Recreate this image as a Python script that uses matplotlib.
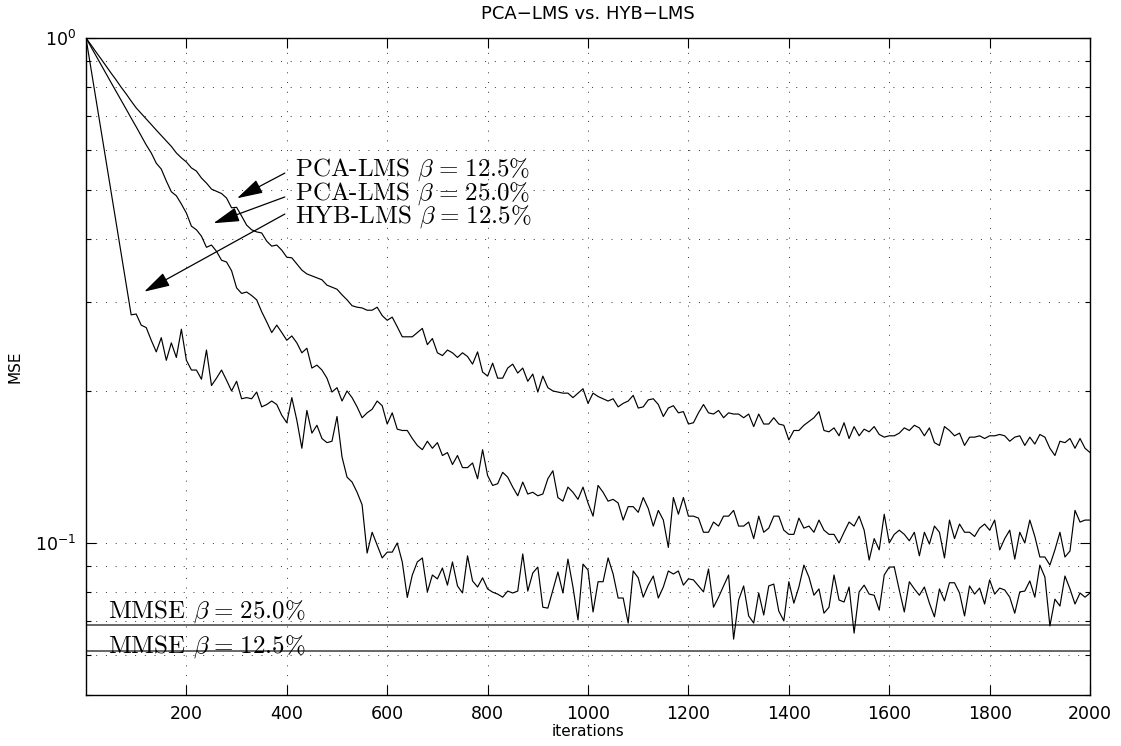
import numpy as np
import matplotlib
matplotlib.use("Agg")
import matplotlib.pyplot as plt

# iteration axis, one sample every 10 iterations
iterations = np.arange(0, 2001, 10)

# PCA-LMS beta = 12.5% (slowest curve)
mse_pca_125 = [
    1.000, 0.969, 0.938, 0.909, 0.880, 0.852, 0.826, 0.799, 0.775, 0.750,
    0.727, 0.709, 0.691, 0.674, 0.657, 0.641, 0.625, 0.610, 0.592, 0.579,
    0.568, 0.553, 0.545, 0.528, 0.516, 0.502, 0.497, 0.492, 0.482, 0.461,
    0.462, 0.444, 0.426, 0.417, 0.413, 0.411, 0.396, 0.387, 0.389, 0.380,
    0.368, 0.367, 0.357, 0.347, 0.341, 0.338, 0.335, 0.332, 0.324, 0.321,
    0.318, 0.310, 0.303, 0.295, 0.293, 0.292, 0.289, 0.289, 0.293, 0.282,
    0.276, 0.280, 0.268, 0.256, 0.256, 0.256, 0.261, 0.266, 0.247, 0.254,
    0.238, 0.235, 0.241, 0.238, 0.233, 0.238, 0.234, 0.226, 0.239, 0.218,
    0.214, 0.227, 0.212, 0.212, 0.222, 0.226, 0.217, 0.222, 0.209, 0.216,
    0.199, 0.214, 0.203, 0.200, 0.199, 0.198, 0.198, 0.194, 0.198, 0.202,
    0.189, 0.198, 0.195, 0.193, 0.191, 0.193, 0.186, 0.189, 0.191, 0.196,
    0.185, 0.186, 0.192, 0.193, 0.188, 0.178, 0.185, 0.187, 0.181, 0.182,
    0.172, 0.173, 0.181, 0.188, 0.181, 0.180, 0.183, 0.177, 0.181, 0.180,
    0.180, 0.177, 0.180, 0.170, 0.180, 0.172, 0.172, 0.177, 0.172, 0.171,
    0.160, 0.167, 0.167, 0.171, 0.174, 0.177, 0.182, 0.167, 0.166, 0.169,
    0.163, 0.173, 0.161, 0.170, 0.163, 0.168, 0.166, 0.170, 0.164, 0.162,
    0.163, 0.163, 0.165, 0.169, 0.167, 0.171, 0.169, 0.163, 0.169, 0.158,
    0.156, 0.170, 0.167, 0.163, 0.165, 0.156, 0.162, 0.162, 0.163, 0.161,
    0.163, 0.163, 0.164, 0.163, 0.159, 0.162, 0.163, 0.156, 0.162, 0.157,
    0.164, 0.162, 0.154, 0.149, 0.159, 0.158, 0.161, 0.154, 0.161, 0.154,
    0.151,
]

# PCA-LMS beta = 25.0%
mse_pca_250 = [
    1.000, 0.960, 0.922, 0.885, 0.850, 0.816, 0.784, 0.753, 0.723, 0.694,
    0.667, 0.640, 0.614, 0.592, 0.565, 0.550, 0.521, 0.496, 0.487, 0.469,
    0.450, 0.424, 0.417, 0.405, 0.385, 0.389, 0.378, 0.363, 0.360, 0.346,
    0.320, 0.312, 0.314, 0.309, 0.303, 0.287, 0.274, 0.261, 0.270, 0.261,
    0.252, 0.257, 0.249, 0.238, 0.243, 0.222, 0.225, 0.220, 0.212, 0.199,
    0.203, 0.191, 0.200, 0.194, 0.186, 0.177, 0.181, 0.184, 0.191, 0.187,
    0.172, 0.181, 0.168, 0.167, 0.167, 0.161, 0.156, 0.153, 0.159, 0.154,
    0.158, 0.149, 0.151, 0.143, 0.149, 0.141, 0.141, 0.144, 0.134, 0.153,
    0.136, 0.130, 0.131, 0.138, 0.135, 0.129, 0.124, 0.132, 0.125, 0.126,
    0.124, 0.125, 0.134, 0.139, 0.123, 0.121, 0.129, 0.126, 0.122, 0.129,
    0.120, 0.113, 0.130, 0.126, 0.121, 0.122, 0.120, 0.111, 0.118, 0.118,
    0.115, 0.123, 0.117, 0.108, 0.116, 0.111, 0.098, 0.123, 0.114, 0.123,
    0.113, 0.113, 0.112, 0.105, 0.105, 0.110, 0.108, 0.113, 0.113, 0.116,
    0.108, 0.108, 0.110, 0.102, 0.113, 0.105, 0.107, 0.113, 0.113, 0.106,
    0.104, 0.104, 0.112, 0.107, 0.108, 0.105, 0.111, 0.106, 0.104, 0.104,
    0.100, 0.105, 0.110, 0.108, 0.113, 0.106, 0.0925, 0.102, 0.0969, 0.114,
    0.100, 0.104, 0.106, 0.104, 0.101, 0.105, 0.0943, 0.105, 0.0995, 0.108,
    0.105, 0.0934, 0.111, 0.102, 0.109, 0.105, 0.105, 0.103, 0.107, 0.109,
    0.106, 0.111, 0.0969, 0.102, 0.106, 0.0929, 0.105, 0.100, 0.111, 0.103,
    0.0938, 0.0938, 0.0904, 0.0969, 0.105, 0.0938, 0.0964, 0.116, 0.110, 0.111,
    0.111,
]

# HYB-LMS beta = 12.5% (fastest curve)
mse_hyb_125 = [
    1.000, 0.869, 0.755, 0.656, 0.570, 0.495, 0.431, 0.374, 0.325, 0.283,
    0.284, 0.270, 0.267, 0.252, 0.239, 0.255, 0.230, 0.249, 0.233, 0.265,
    0.230, 0.220, 0.220, 0.211, 0.241, 0.205, 0.212, 0.220, 0.210, 0.200,
    0.209, 0.193, 0.194, 0.193, 0.199, 0.186, 0.188, 0.191, 0.188, 0.179,
    0.173, 0.194, 0.175, 0.154, 0.183, 0.165, 0.171, 0.161, 0.158, 0.159,
    0.178, 0.148, 0.135, 0.132, 0.126, 0.119, 0.0955, 0.105, 0.099, 0.0934,
    0.0959, 0.0959, 0.100, 0.0917, 0.078, 0.0864, 0.0917, 0.0934, 0.080, 0.0864,
    0.0849, 0.0892, 0.0825, 0.0917, 0.0822, 0.0796, 0.0943, 0.0841, 0.0818, 0.0853,
    0.0811, 0.0799, 0.0792, 0.0781, 0.0803, 0.0796, 0.0803, 0.0951, 0.0803, 0.0872,
    0.0896, 0.0746, 0.0743, 0.0807, 0.0876, 0.0796, 0.0929, 0.0818, 0.0704, 0.0908,
    0.0884, 0.0730, 0.0838, 0.0838, 0.0934, 0.0868, 0.0778, 0.0778, 0.0694, 0.0880,
    0.0853, 0.0781, 0.0825, 0.0860, 0.0778, 0.0818, 0.0880, 0.0868, 0.0880, 0.0825,
    0.0849, 0.0845, 0.0822, 0.0800, 0.0888, 0.0746, 0.0781, 0.0822, 0.0864, 0.0645,
    0.0771, 0.0822, 0.0717, 0.0694, 0.0796, 0.0720, 0.0822, 0.0829, 0.0733, 0.0701,
    0.0838, 0.0760, 0.0818, 0.0904, 0.0856, 0.0788, 0.0811, 0.0726, 0.0746, 0.0864,
    0.0771, 0.0764, 0.0818, 0.0663, 0.0800, 0.0825, 0.0792, 0.0788, 0.0736, 0.0864,
    0.0896, 0.0896, 0.0807, 0.0730, 0.0838, 0.0811, 0.0788, 0.0818, 0.0760, 0.0714,
    0.0811, 0.0768, 0.0834, 0.0834, 0.0796, 0.0717, 0.0822, 0.0792, 0.0814, 0.0757,
    0.0845, 0.0792, 0.0814, 0.0807, 0.0781, 0.0726, 0.0800, 0.0803, 0.0841, 0.0781,
    0.0904, 0.0856, 0.0685, 0.0774, 0.0750, 0.0860, 0.0811, 0.0757, 0.0796, 0.0781,
    0.0796,
]

# theoretical minimum MSE levels
mmse_250 = 0.0688
mmse_125 = 0.0610

curve_labels = [r"PCA-LMS $\beta \hspace{0.1} = \hspace{0.1} 12.5\%$",
                r"PCA-LMS $\beta \hspace{0.1} = \hspace{0.1} 25.0\%$",
                r"HYB-LMS $\beta \hspace{0.1} = \hspace{0.1} 12.5\%$"]
mmse_labels = [r"MMSE $\beta \hspace{0.1} = \hspace{0.1} 25.0\%$",
               r"MMSE $\beta \hspace{0.1} = \hspace{0.1} 12.5\%$"]

plt.rcParams['font.family'] = ['DejaVu Sans']

fig = plt.figure(figsize=(11.21, 7.46), dpi=100)
ax = fig.add_axes([0.0767, 0.0684, 0.8957, 0.8807])

ax.set_yscale('log')
ax.set_xlim(0, 2000)
ax.set_ylim(0.05, 1)

# mmse reference levels
ax.axhline(mmse_250, color='#5a5a5a', lw=1.3)
ax.axhline(mmse_125, color='#5a5a5a', lw=1.3)

for ys in (mse_pca_125, mse_pca_250, mse_hyb_125):
    ax.plot(iterations, ys, color='black', lw=0.85)

# matlab style dotted grid
grid_kw = dict(color='#333333', lw=0.7, linestyle=(0, (1, 9)))
ax.grid(True, which='major', axis='x', **grid_kw)
ax.grid(True, which='both', axis='y', **grid_kw)

ax.set_xticks(np.arange(200, 2001, 200))
ax.set_yticks([0.1, 1])
ax.set_yticklabels([r'$\mathregular{10^{-1}}$', r'$\mathregular{10^{0}}$'])
ax.tick_params(which='both', direction='in', top=True, right=True,
               labelsize=12.5, width=0.8)
ax.tick_params(which='major', length=7, pad=7)
ax.tick_params(which='minor', length=3.5)
ax.tick_params(axis='y', which='minor', labelleft=False)
for sp in ax.spines.values():
    sp.set_linewidth(1.0)

ax.set_title('PCA\u2212LMS vs. HYB\u2212LMS', fontsize=13, pad=14)
ax.set_xlabel('iterations', fontsize=11, labelpad=1)
ax.set_ylabel('MSE', fontsize=11, labelpad=9)

# arrows with labels
text_kw = dict(fontsize=18, family='cmr10', math_fontfamily='cm')
arrow_tips = [(301, 0.4815), (254, 0.4297), (116, 0.3145)]
arrow_tails = [(396, 0.540), (396, 0.4843), (396, 0.448)]
label_y = [0.533, 0.478, 0.430]
arrow_kw = dict(arrowstyle='-|>,head_length=1.6,head_width=0.45',
                color='black', lw=0.9, shrinkA=0, shrinkB=0)
for lab, tip, tail, ly in zip(curve_labels, arrow_tips, arrow_tails, label_y):
    ax.annotate('', xy=tip, xytext=tail, arrowprops=arrow_kw)
    ax.text(416, ly, lab, va='baseline', ha='left', **text_kw)

ax.text(44, 0.0710, mmse_labels[0], va='baseline', ha='left', **text_kw)
ax.text(44, 0.0606, mmse_labels[1], va='baseline', ha='left', **text_kw)

fig.savefig('out.png', dpi=100)
